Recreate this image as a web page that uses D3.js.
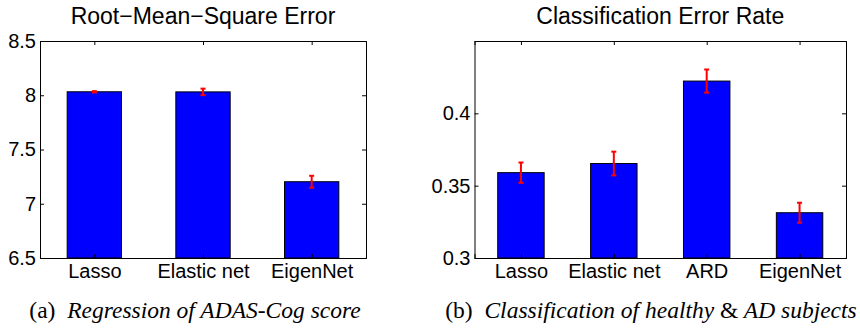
<!DOCTYPE html>
<html>
<head>
<meta charset="utf-8">
<script src="https://cdn.jsdelivr.net/npm/d3@7"></script>
<style>
  body { margin: 0; background: #fff; }
  svg { display: block; }
</style>
</head>
<body>
<div id="chart"></div>
<script>
// panel (a) regression
var regMethods = ["Lasso", "Elastic net", "EigenNet"];
var regRmse = [8.032, 8.031, 7.203];
var regErr = [0.006, 0.03, 0.055];
var regTicks = [6.5, 7, 7.5, 8, 8.5];

// panel (b) classification
var clsMethods = ["Lasso", "Elastic net", "ARD", "EigenNet"];
var clsRate = [0.359, 0.3653, 0.4223, 0.3313];
var clsErr = [0.007, 0.0082, 0.008, 0.0069];
var clsTicks = [0.3, 0.35, 0.4, 0.45];

var svg = d3.select('#chart').append('svg').attr('width', 860).attr('height', 328);

function panel( opt ) {

    var g = svg.append('g');
    var n = opt.cats.length;

    var x = d3.scaleLinear().domain([0.5, n + 0.5]).range([opt.x0, opt.x1]);
    var y = d3.scaleLinear().domain(opt.domain).range([opt.y1, opt.y0]);
    var bw = x(1.5) - x(1);

    // bars
    g.selectAll('rect.bar').data(opt.vals).enter().append('rect')
        .attr('class', 'bar')
        .attr('x', function(d, i) { return x(i + 1) - bw / 2; })
        .attr('y', function(d) { return y(d); })
        .attr('width', bw)
        .attr('height', function(d) { return y(opt.domain[0]) - y(d); })
        .style('fill', '#0000ff')
        .style('stroke', '#000')
        .style('stroke-width', 1);

    // error bars
    var eb = g.selectAll('g.err').data(opt.vals).enter().append('g').attr('class', 'err');
    eb.append('line')
        .attr('x1', function(d, i) { return x(i + 1); })
        .attr('x2', function(d, i) { return x(i + 1); })
        .attr('y1', function(d, i) { return y(d - opt.errs[i]); })
        .attr('y2', function(d, i) { return y(d + opt.errs[i]); });
    [-1, 1].forEach(function(s) {
        eb.append('line')
            .attr('x1', function(d, i) { return x(i + 1) - 2.5; })
            .attr('x2', function(d, i) { return x(i + 1) + 2.5; })
            .attr('y1', function(d, i) { return y(d + s * opt.errs[i]); })
            .attr('y2', function(d, i) { return y(d + s * opt.errs[i]); });
    });
    eb.selectAll('line').style('stroke', '#ff0000').style('stroke-width', 2);

    // axes (ticks inward)
    var tickCats = d3.range(1, n + 1);
    g.append('g').attr('transform', 'translate(0,' + opt.y1 + ')')
        .call(d3.axisBottom(x).tickValues(tickCats).tickSize(-4).tickPadding(6)
            .tickFormat(function(d) { return opt.cats[d - 1]; }));
    g.append('g').attr('transform', 'translate(0,' + opt.y0 + ')')
        .call(d3.axisTop(x).tickValues(tickCats).tickSize(-4).tickFormat(''));
    g.append('g').attr('transform', 'translate(' + opt.x0 + ',0)')
        .call(d3.axisLeft(y).tickValues(opt.ticks).tickSize(-4).tickPadding(4)
            .tickFormat(function(d) { return opt.showTop || d < opt.domain[1] ? d3.format('')(d) : ''; }));
    g.append('g').attr('transform', 'translate(' + opt.x1 + ',0)')
        .call(d3.axisRight(y).tickValues(opt.ticks).tickSize(-4).tickFormat(''));

    g.selectAll('.domain').style('stroke', '#000');
    g.selectAll('.tick line').style('stroke', '#000');
    g.selectAll('.tick text')
        .style('font-family', 'Liberation Sans, Arial, sans-serif')
        .style('font-size', '20px')
        .style('fill', '#000');

    g.append('text')
        .attr('x', (opt.x0 + opt.x1) / 2).attr('y', 24)
        .attr('text-anchor', 'middle')
        .style('font-family', 'Liberation Sans, Arial, sans-serif')
        .style('font-size', '23px')
        .text(opt.title);

    var cap = g.append('text')
        .attr('x', opt.capX).attr('y', 318)
        .attr('text-anchor', 'middle')
        .style('font-family', 'Liberation Serif, Times New Roman, serif')
        .style('font-size', '23.5px');
    cap.append('tspan').text(opt.capLabel + '\u2002');
    opt.capParts.forEach(function(p) {
        cap.append('tspan').style('font-style', p[1] ? 'italic' : 'normal').text(p[0]);
    });
}

panel({
    cats: regMethods, vals: regRmse, errs: regErr, ticks: regTicks,
    domain: [6.5, 8.5], showTop: true,
    x0: 40, x1: 366, y0: 41, y1: 258,
    title: 'Root\u2212Mean\u2212Square Error',
    capX: 195, capLabel: '(a)',
    capParts: [['Regression of ADAS-Cog score', true]]
});

panel({
    cats: clsMethods, vals: clsRate, errs: clsErr, ticks: clsTicks,
    domain: [0.3, 0.45], showTop: false,
    x0: 474.5, x1: 846, y0: 41, y1: 258,
    title: 'Classification Error Rate',
    capX: 651, capLabel: '(b)',
    capParts: [['Classification of healthy ', true], ['&', false], [' AD subjects', true]]
});

</script>
</body>
</html>
